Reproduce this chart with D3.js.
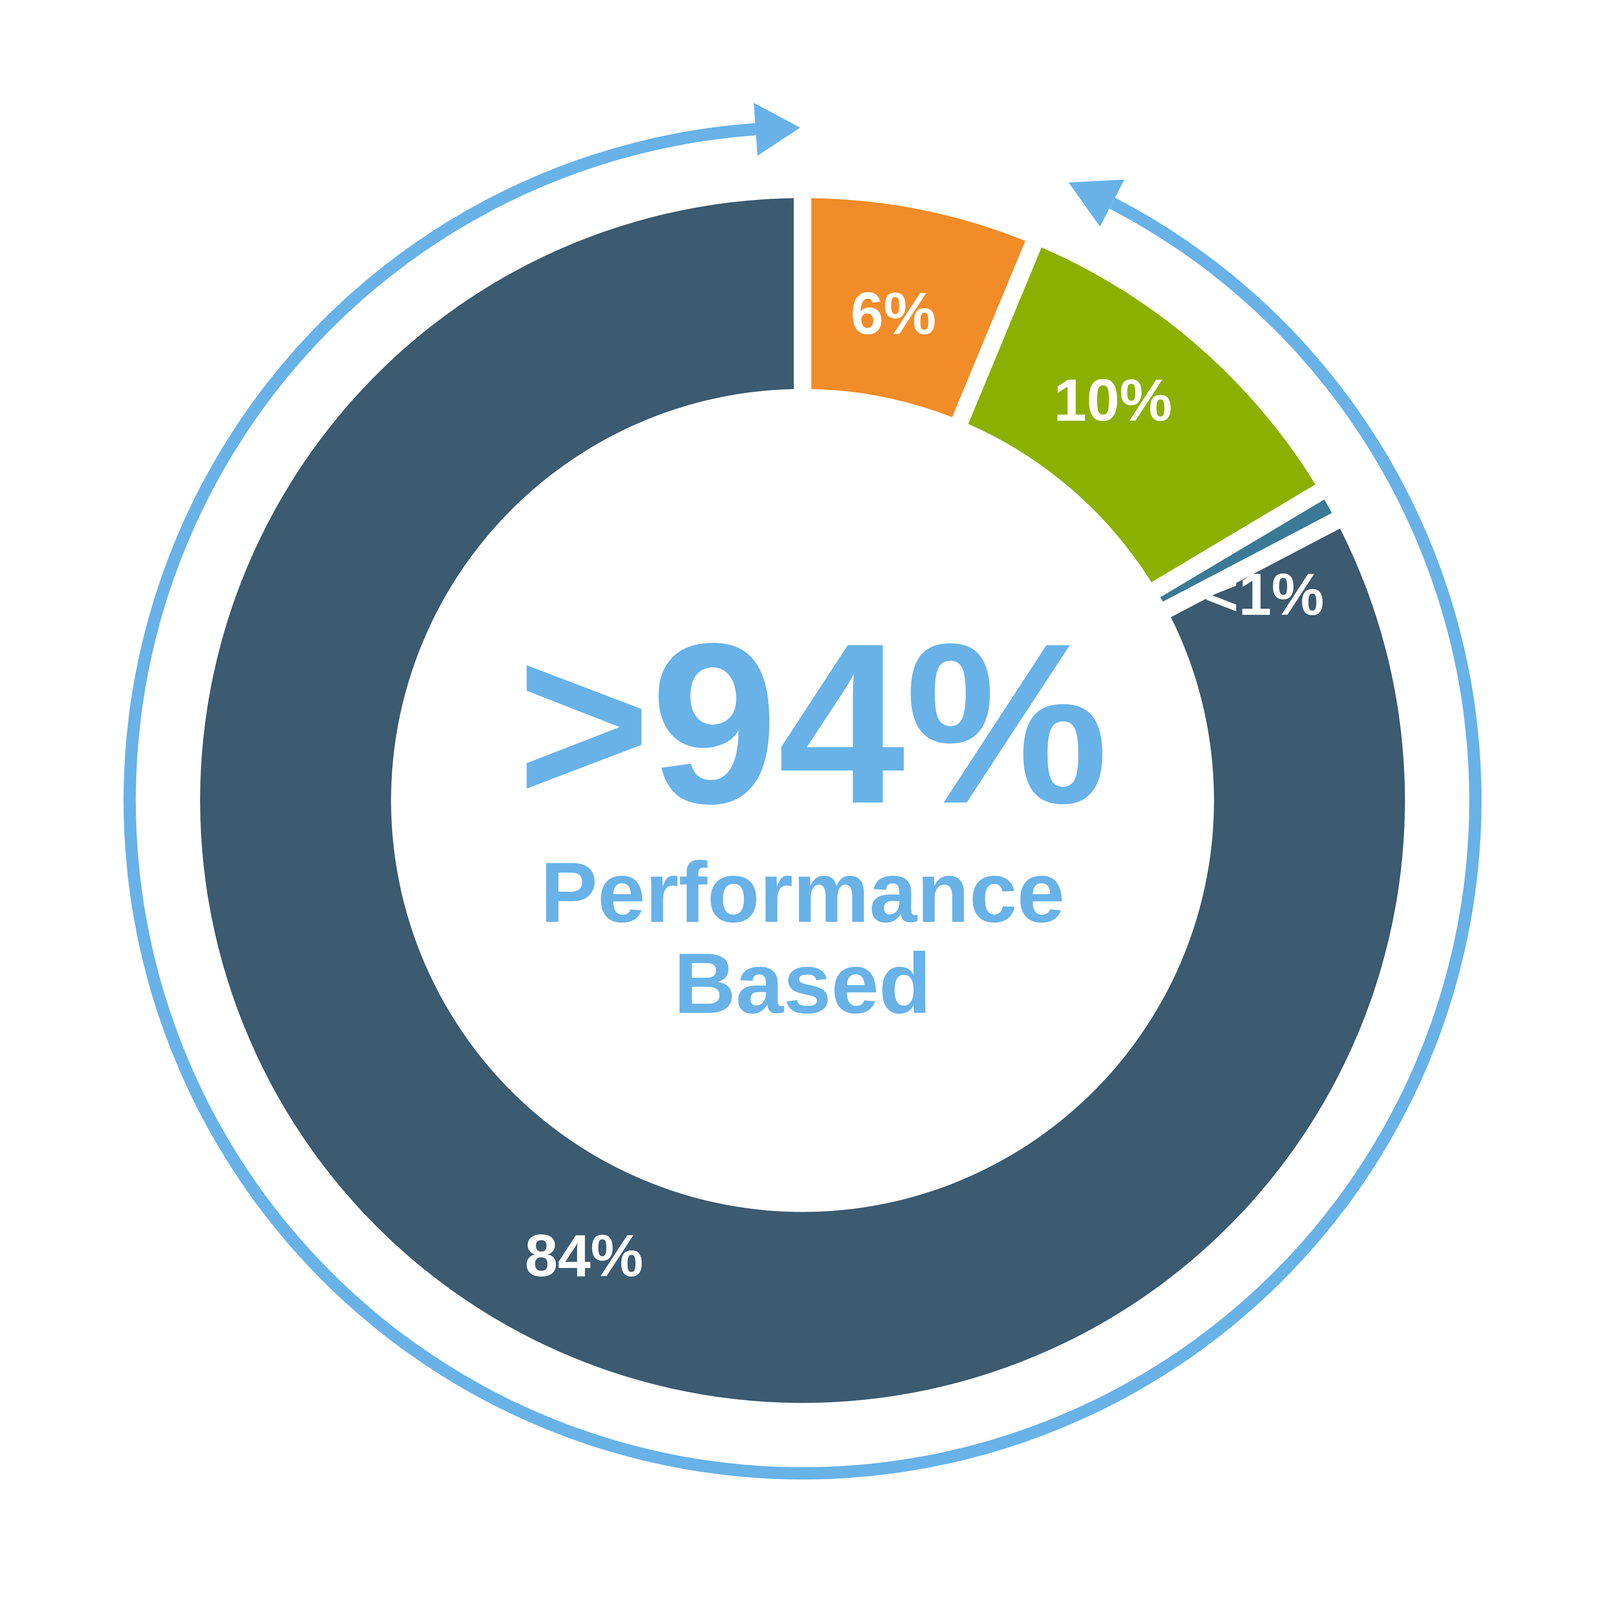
<!DOCTYPE html>
<html>
<head>
<meta charset="utf-8">
<script src="https://cdn.jsdelivr.net/npm/d3@7/dist/d3.min.js"></script>
<style>body{margin:0;background:#fff;overflow:hidden;} svg{display:block;}</style>
</head>
<body>
<script>
var size = 4305;

// data
var labels = ["6%", "10%", "<1%", "84%"];
var values = [6, 10, 0.5, 84];
var colors = ["#F28C28", "#8CB000", "#3A7A96", "#3C5A70"];
var labelPos = [[875, 327], [1090, 412], [1238, 602], [572, 1250]];
var centerLines = ["Performance", "Based"];

var svg = d3.select("body").append("svg")
  .attr("width", size)
  .attr("height", size)
  .attr("viewBox", "0 0 1647 1647");

var cx = 786, cy = 784;
var blue = "#68B2E8";
var g = svg.append("g").attr("transform", "translate(" + cx + "," + cy + ")");

var pie = d3.pie().sort(null).value(function(d) { return d; }).padAngle(0.024);
var arc = d3.arc().innerRadius(403).outerRadius(590);

g.selectAll("path.seg")
  .data(pie(values))
  .enter().append("path")
  .attr("class", "seg")
  .attr("d", arc)
  .attr("fill", function(d, i) { return colors[i]; });

// outer ring with arrowheads
var rad = Math.PI / 180;
var ringR = 659;
var a0 = 27.4 * rad, a1 = 356 * rad;
g.append("path")
  .attr("d", d3.arc().innerRadius(ringR - 6).outerRadius(ringR + 6).startAngle(a0).endAngle(a1)())
  .attr("fill", blue);

function pt(a, r) { return [r * Math.sin(a), -r * Math.cos(a)]; }
function head(baseA, tipA) {
  var b1 = pt(baseA, ringR - 26), b2 = pt(baseA, ringR + 26), t = pt(tipA, ringR);
  g.append("path").attr("d", "M" + b1 + "L" + t + "L" + b2 + "Z").attr("fill", blue);
}
head(a1, 359.8 * rad);
head(a0, 23.3 * rad);

// segment labels
svg.selectAll("text.lab")
  .data(labels)
  .enter().append("text")
  .attr("class", "lab")
  .attr("x", function(d, i) { return labelPos[i][0]; })
  .attr("y", function(d, i) { return labelPos[i][1]; })
  .attr("text-anchor", "middle")
  .attr("font-family", "Liberation Sans, Arial, sans-serif")
  .attr("font-weight", "bold")
  .attr("font-size", 58)
  .attr("fill", "#fff")
  .text(function(d) { return d; });

svg.append("text")
  .attr("x", 796).attr("y", 786)
  .attr("text-anchor", "middle")
  .attr("font-family", "Liberation Sans, Arial, sans-serif")
  .attr("font-weight", "bold")
  .attr("font-size", 224)
  .attr("fill", blue)
  .text(">94%");

svg.selectAll("text.cl")
  .data(centerLines)
  .enter().append("text")
  .attr("class", "cl")
  .attr("x", 786)
  .attr("y", function(d, i) { return 903 + i * 89; })
  .attr("text-anchor", "middle")
  .attr("font-family", "Liberation Sans, Arial, sans-serif")
  .attr("font-weight", "bold")
  .attr("font-size", 84)
  .attr("fill", blue)
  .text(function(d) { return d; });
</script>
</body>
</html>
